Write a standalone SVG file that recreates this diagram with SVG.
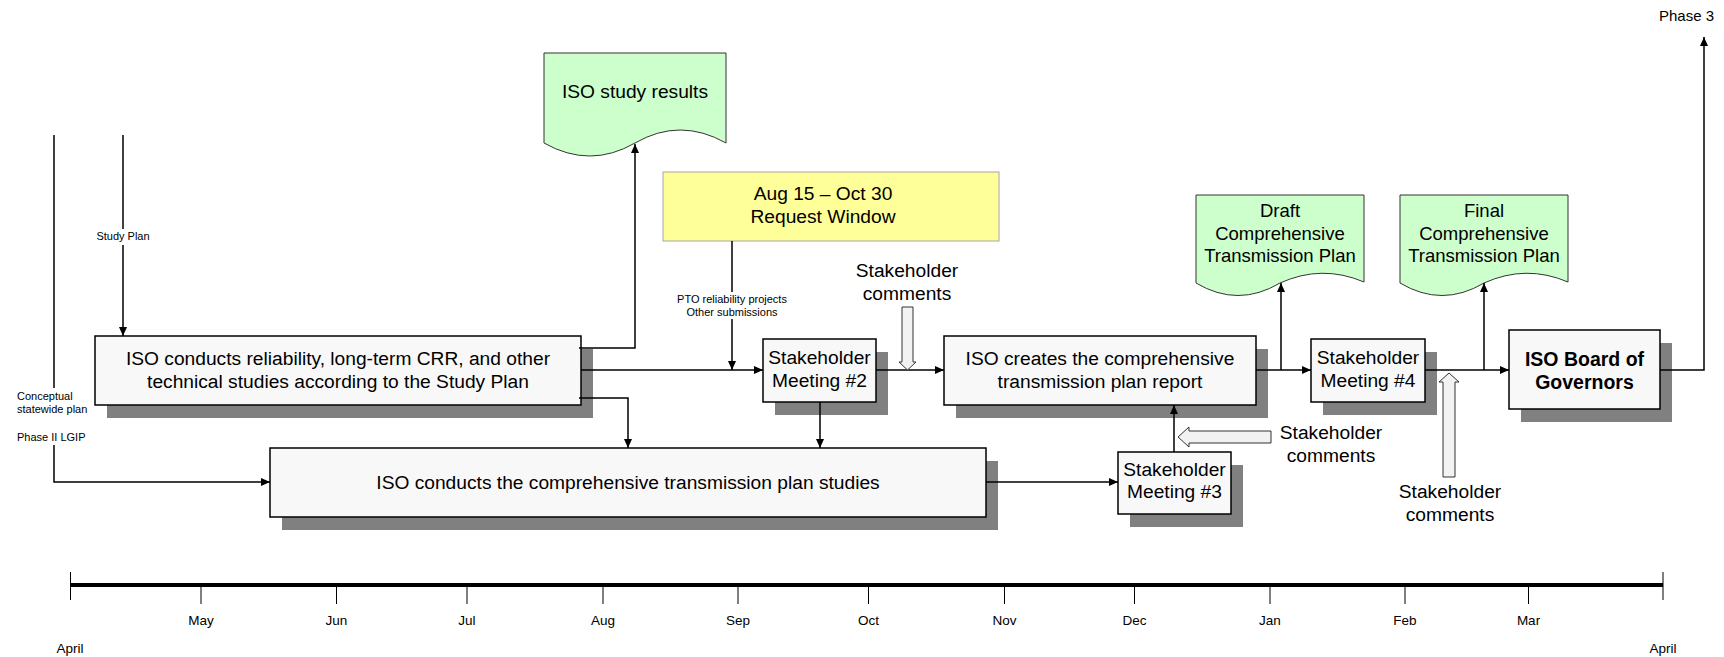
<svg xmlns="http://www.w3.org/2000/svg" width="1724" height="657" viewBox="0 0 1724 657">
<defs>
<style>
text{font-family:"Liberation Sans",Arial,sans-serif;fill:#000}
.t{font-size:19.2px;text-anchor:middle}
.d{font-size:18.5px;text-anchor:middle}
.b{font-size:19.5px;font-weight:bold;text-anchor:middle}
.s{font-size:11px}
.sc{font-size:11px;text-anchor:middle}
.m{font-size:13.5px;text-anchor:middle}
.box{fill:#F8F8F8;stroke:#000;stroke-width:1.5}
.sh{fill:#808080}
.doc{fill:#CCFFCC;stroke:#333;stroke-width:1}
.ln{fill:none;stroke:#000;stroke-width:1.5}
.hol{fill:#F2F2F2;stroke:#333;stroke-width:1}
.tick{stroke:#000;stroke-width:1}
</style>
<marker id="ah" viewBox="0 0 9 8" refX="9" refY="4" markerWidth="9" markerHeight="8" markerUnits="userSpaceOnUse" orient="auto">
<path d="M0,0 L9,4 L0,8 Z" fill="#000"/>
</marker>
</defs>
<rect width="1724" height="657" fill="#fff"/>

<g id="box1">
<rect class="sh" x="107" y="349" width="486" height="69"/>
<rect class="box" x="95" y="336" width="486" height="69"/>
<text class="t" x="338" y="365">ISO conducts reliability, long-term CRR, and other</text>
<text class="t" x="338" y="388">technical studies according to the Study Plan</text>
</g>

<g id="box3">
<rect class="sh" x="282" y="461" width="716" height="69"/>
<rect class="box" x="270" y="448" width="716" height="69"/>
<text class="t" x="628" y="489">ISO conducts the comprehensive transmission plan studies</text>
</g>

<g id="meeting2">
<rect class="sh" x="775" y="352" width="113" height="63"/>
<rect class="box" x="763" y="339" width="113" height="63"/>
<text class="t" x="819.5" y="364">Stakeholder</text>
<text class="t" x="819.5" y="387">Meeting #2</text>
</g>

<g id="isocreates">
<rect class="sh" x="956" y="349" width="312" height="69"/>
<rect class="box" x="944" y="336" width="312" height="69"/>
<text class="t" x="1100" y="365">ISO creates the comprehensive</text>
<text class="t" x="1100" y="388">transmission plan report</text>
</g>

<g id="meeting3">
<rect class="sh" x="1130" y="465" width="113" height="62"/>
<rect class="box" x="1118" y="452" width="113" height="62"/>
<text class="t" x="1174.5" y="476">Stakeholder</text>
<text class="t" x="1174.5" y="498">Meeting #3</text>
</g>

<g id="meeting4">
<rect class="sh" x="1323" y="352" width="114" height="63"/>
<rect class="box" x="1311" y="339" width="114" height="63"/>
<text class="t" x="1368" y="364">Stakeholder</text>
<text class="t" x="1368" y="387">Meeting #4</text>
</g>

<g id="board">
<rect class="sh" x="1521" y="343" width="151" height="79"/>
<rect class="box" x="1509" y="330" width="151" height="79"/>
<text class="b" x="1584.5" y="366">ISO Board of</text>
<text class="b" x="1584.5" y="389">Governors</text>
</g>

<g id="studyresults">
<path class="doc" d="M544,53 H726 V143 Q680,117 635,143 Q590,169 544,143 Z"/>
<text class="t" x="635" y="98">ISO study results</text>
</g>

<g id="requestwindow">
<rect x="663" y="172" width="336" height="69" fill="#FFFF99" stroke="#A6A6A6" stroke-width="1"/>
<text class="t" x="823" y="200">Aug 15 – Oct 30</text>
<text class="t" x="823" y="223">Request Window</text>
</g>

<g id="draft">
<path class="doc" d="M1196,195 H1364 V282 Q1322,264 1280,283 Q1238,308 1196,283 Z"/>
<text class="d" x="1280" y="216.5">Draft</text>
<text class="d" x="1280" y="239.5">Comprehensive</text>
<text class="d" x="1280" y="262">Transmission Plan</text>
</g>

<g id="final">
<path class="doc" d="M1400,195 H1568 V282 Q1526,264 1484,283 Q1442,308 1400,283 Z"/>
<text class="d" x="1484" y="216.5">Final</text>
<text class="d" x="1484" y="239.5">Comprehensive</text>
<text class="d" x="1484" y="262">Transmission Plan</text>
</g>

<g id="connectors">
<path class="ln" d="M123,135 V229"/>
<path class="ln" d="M123,245 V336" marker-end="url(#ah)"/>
<path class="ln" d="M54,135 V388"/>
<path class="ln" d="M54,445 V482 H270" marker-end="url(#ah)"/>
<path class="ln" d="M579,348 H635 V144" marker-end="url(#ah)"/>
<path class="ln" d="M581,370 H763" marker-end="url(#ah)"/>
<path class="ln" d="M579,398 H628 V448" marker-end="url(#ah)"/>
<path class="ln" d="M732,241 V292"/>
<path class="ln" d="M732,319 V370" marker-end="url(#ah)"/>
<path class="ln" d="M876,370 H944" marker-end="url(#ah)"/>
<path class="ln" d="M820,402 V448" marker-end="url(#ah)"/>
<path class="ln" d="M986,482 H1118" marker-end="url(#ah)"/>
<path class="ln" d="M1174,452 V405" marker-end="url(#ah)"/>
<path class="ln" d="M1256,370 H1311" marker-end="url(#ah)"/>
<path class="ln" d="M1281,370 V283" marker-end="url(#ah)"/>
<path class="ln" d="M1425,370 H1509" marker-end="url(#ah)"/>
<path class="ln" d="M1484,370 V283" marker-end="url(#ah)"/>
<path class="ln" d="M1660,370 H1704 V37" marker-end="url(#ah)"/>
</g>

<g id="comments">
<path class="hol" d="M902,307 H913 V362 H916 L907.5,370 L899,362 H902 Z"/>
<text class="t" x="907" y="277">Stakeholder</text>
<text class="t" x="907" y="300">comments</text>
<path class="hol" d="M1271,431 H1189 V427 L1178,437 L1189,447 V443 H1271 Z"/>
<text class="t" x="1331" y="439">Stakeholder</text>
<text class="t" x="1331" y="462">comments</text>
<path class="hol" d="M1443,477 V382 H1439 L1449,373 L1459,382 H1455 V477 Z"/>
<text class="t" x="1450" y="498">Stakeholder</text>
<text class="t" x="1450" y="521">comments</text>
</g>

<g id="labels">
<text class="sc" x="123" y="240">Study Plan</text>
<text class="sc" x="732" y="302.5">PTO reliability projects</text>
<text class="sc" x="732" y="316">Other submissions</text>
<text class="s" x="17" y="400">Conceptual</text>
<text class="s" x="17" y="413">statewide plan</text>
<text class="s" x="17" y="441">Phase II LGIP</text>
<text x="1714" y="21" font-size="15" text-anchor="end">Phase 3</text>
</g>

<g id="timeline">
<line x1="70.5" y1="585" x2="1663" y2="585" stroke="#000" stroke-width="4"/>
<line class="tick" x1="70.5" y1="572" x2="70.5" y2="600"/>
<line class="tick" x1="1663" y1="572" x2="1663" y2="600"/>
<line class="tick" x1="201" y1="585" x2="201" y2="604"/>
<line class="tick" x1="336.5" y1="585" x2="336.5" y2="604"/>
<line class="tick" x1="467" y1="585" x2="467" y2="604"/>
<line class="tick" x1="603" y1="585" x2="603" y2="604"/>
<line class="tick" x1="738" y1="585" x2="738" y2="604"/>
<line class="tick" x1="868.5" y1="585" x2="868.5" y2="604"/>
<line class="tick" x1="1004.5" y1="585" x2="1004.5" y2="604"/>
<line class="tick" x1="1134.5" y1="585" x2="1134.5" y2="604"/>
<line class="tick" x1="1270" y1="585" x2="1270" y2="604"/>
<line class="tick" x1="1405" y1="585" x2="1405" y2="604"/>
<line class="tick" x1="1528.5" y1="585" x2="1528.5" y2="604"/>
<text class="m" x="201" y="625">May</text>
<text class="m" x="336.5" y="625">Jun</text>
<text class="m" x="467" y="625">Jul</text>
<text class="m" x="603" y="625">Aug</text>
<text class="m" x="738" y="625">Sep</text>
<text class="m" x="868.5" y="625">Oct</text>
<text class="m" x="1004.5" y="625">Nov</text>
<text class="m" x="1134.5" y="625">Dec</text>
<text class="m" x="1270" y="625">Jan</text>
<text class="m" x="1405" y="625">Feb</text>
<text class="m" x="1528.5" y="625">Mar</text>
<text class="m" x="70" y="653">April</text>
<text class="m" x="1663" y="653">April</text>
</g>
</svg>
